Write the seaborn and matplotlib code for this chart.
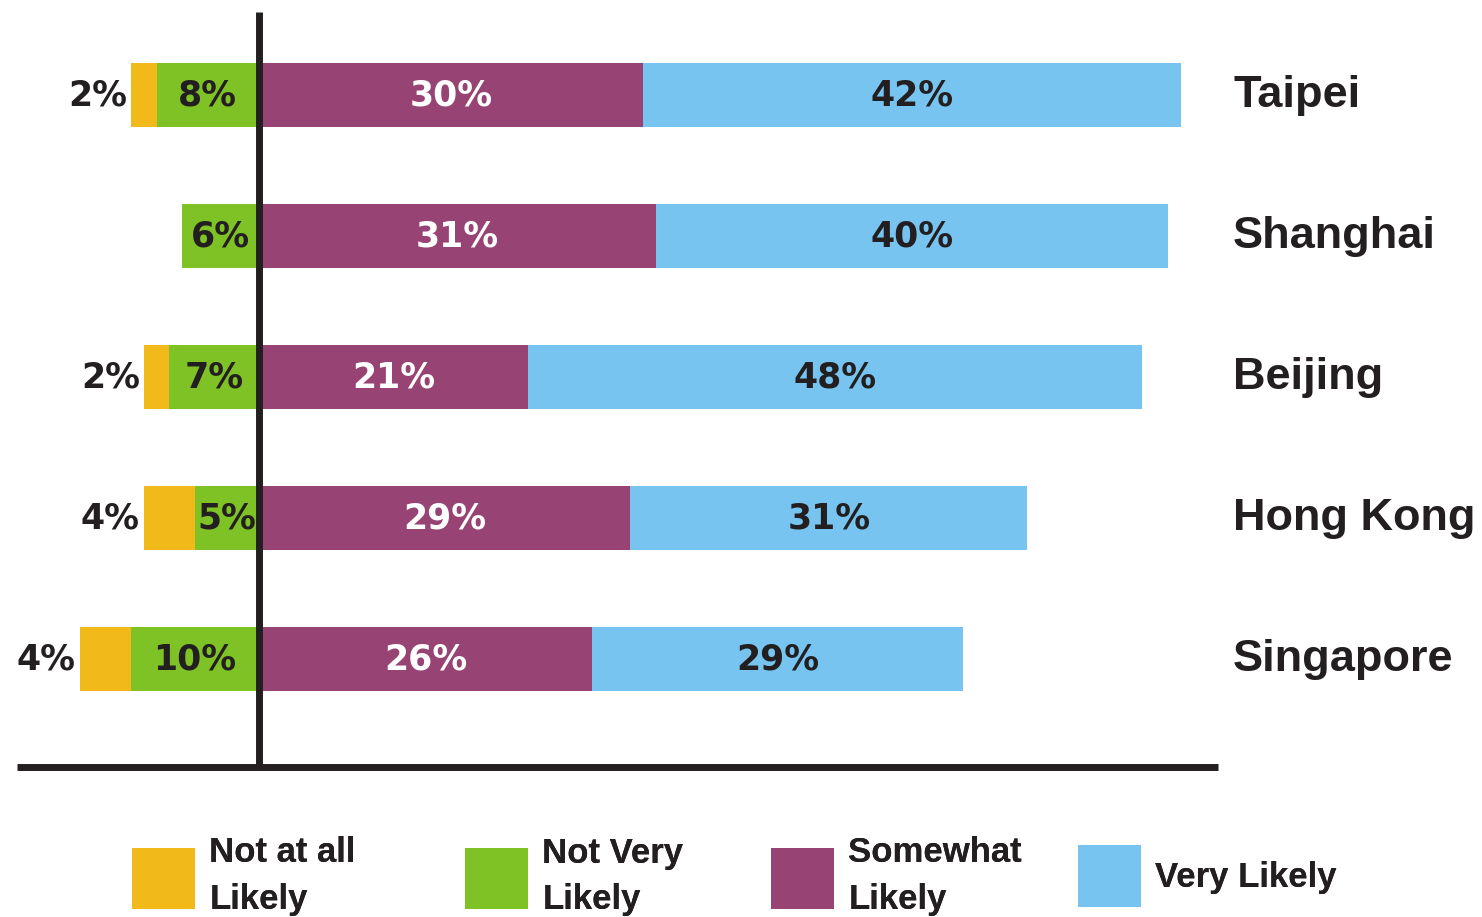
"""Diverging stacked bar chart: likelihood responses by city."""

import matplotlib

matplotlib.use("Agg")
import matplotlib.pyplot as plt
import pandas as pd
import seaborn as sns
from matplotlib.patches import Patch

CITIES = ["Taipei", "Shanghai", "Beijing", "Hong Kong", "Singapore"]
NOT_AT_ALL = [2, 0, 2, 4, 4]
NOT_VERY = [8, 6, 7, 5, 10]
SOMEWHAT = [30, 31, 21, 29, 26]
VERY = [42, 40, 48, 31, 29]
LEGEND_LABELS = ["Not at all\nLikely", "Not Very\nLikely", "Somewhat\nLikely", "Very Likely"]

ORANGE = "#F2B91B"
GREEN = "#7FC225"
PURPLE = "#974474"
BLUE = "#76C4EF"
INK = "#231F20"

W, H = 1482, 917


def main() -> None:
    sns.set_style("white")
    plt.rcParams["font.family"] = ["DejaVu Sans"]

    df = pd.DataFrame({
        "city": CITIES,
        "not_at_all": NOT_AT_ALL,
        "not_very": NOT_VERY,
        "somewhat": SOMEWHAT,
        "very": VERY,
    })
    df["neg_outer"] = -(df["not_at_all"] + df["not_very"])
    df["neg_inner"] = -df["not_very"]
    df["pos_outer"] = df["somewhat"] + df["very"]
    df["pos_inner"] = df["somewhat"]

    fig = plt.figure(figsize=(W / 100, H / 100), dpi=100)
    ax = fig.add_axes([17 / W, 1 - 767 / H, (1218 - 17) / W, (767 - 12) / H])

    katmanlar = [("neg_outer", ORANGE), ("neg_inner", GREEN),
                 ("pos_outer", BLUE), ("pos_inner", PURPLE)]
    for sutun, renk in katmanlar:
        sns.barplot(data=df, x=sutun, y="city", orient="h", color=renk,
                    saturation=1, width=0.45, errorbar=None, linewidth=0, ax=ax)

    ax.set_xlim(-18.9, 74.9)
    ax.set_ylim(4.766, -0.59)
    ax.set_xticks([])
    ax.set_yticks([])
    ax.set_xlabel("")
    ax.set_ylabel("")
    sns.despine(ax=ax, left=True)
    ax.spines["bottom"].set_linewidth(5)
    ax.spines["bottom"].set_color(INK)
    ax.spines["bottom"].set_capstyle("butt")
    ax.axvline(0, color=INK, lw=5, zorder=5, solid_capstyle="butt")

    yazi = dict(fontsize=25, fontweight="bold", va="center", ha="center", zorder=6)
    for i, satir in df.iterrows():
        if satir["not_at_all"] > 0:
            ax.text(satir["neg_outer"] - 0.3, i, f"{satir['not_at_all']}%",
                    color=INK, **{**yazi, "ha": "right"})
        ax.text(-satir["not_very"] / 2, i, f"{satir['not_very']}%", color=INK, **yazi)
        ax.text(satir["somewhat"] / 2, i, f"{satir['somewhat']}%", color="white", **yazi)
        ax.text(satir["somewhat"] + satir["very"] / 2, i, f"{satir['very']}%",
                color=INK, **yazi)
        ax.text(1.0125, i, satir["city"], transform=ax.get_yaxis_transform(),
                fontsize=32.5, fontweight="bold", family="Liberation Sans",
                color=INK, ha="left", va="center")

    # legend: one entry per box, placed like the original
    renkler = [ORANGE, GREEN, PURPLE, BLUE]
    sol_kenar = [132, 465, 771, 1078]
    for etiket, renk, x in zip(LEGEND_LABELS, renkler, sol_kenar):
        leg = fig.legend(
            handles=[Patch(facecolor=renk, linewidth=0)], labels=[etiket],
            loc="center left", bbox_to_anchor=(x / W, 1 - 876 / H),
            frameon=False, borderpad=0, borderaxespad=0,
            handlelength=1.8, handleheight=2.35, handletextpad=0.43,
            prop={"family": "Liberation Sans", "weight": "bold", "size": 25},
            labelcolor=INK,
        )
        for t in leg.get_texts():
            t.set_linespacing(1.5)
        fig.add_artist(leg)

    fig.savefig("out.png", dpi=100)
    plt.close(fig)


if __name__ == "__main__":
    main()
